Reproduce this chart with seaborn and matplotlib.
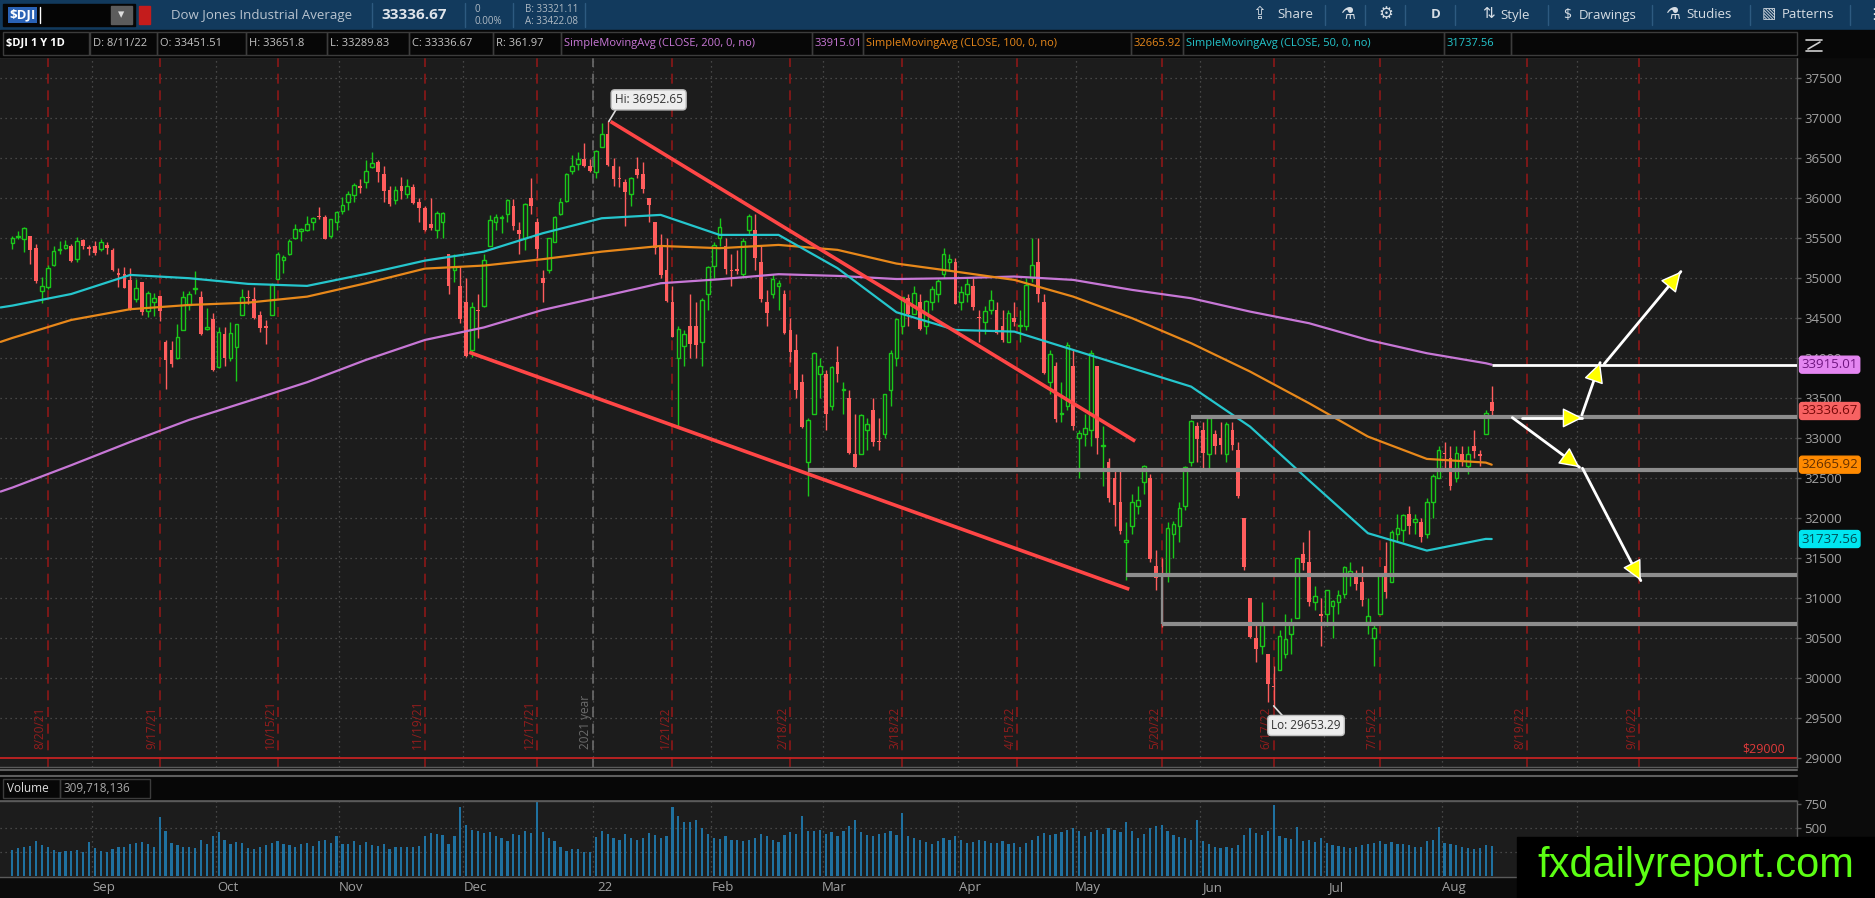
import numpy as np
import pandas as pd
import seaborn as sns
import matplotlib.pyplot as plt
from matplotlib.patches import Rectangle
from matplotlib.lines import Line2D
from matplotlib.transforms import blended_transform_factory

# $DJI daily candles 8/12/21 - 8/11/22
opens = [
    35440, 35510, 35480, 35520, 35370, 34830, 34880, 35160, 35350, 35370, 35400, 35240, 35470, 35390,
    35400, 35360, 35410, 35350, 35060, 35050, 34970, 34740, 34950, 34590, 34700, 34770, 34200, 34100, 34000, 34350, 34660, 34860, 34760, 34360, 34480,
    33890, 34300, 34000, 34140, 34530, 34750, 34740, 34530, 34400, 34530, 34990, 35220, 35300, 35500, 35590, 35600, 35700, 35760, 35760, 35520, 35700,
    35830, 35950, 36040, 36150, 36200, 36380, 36450, 36300, 36100, 35970, 36150, 36050, 36140, 35950, 35870, 35670, 35600, 35700, 35300, 35100, 34900,
    34700, 34100, 34600, 34650, 35400, 35700, 35750, 35800, 35900, 35600, 35500, 36000, 35700, 35000, 35100, 35450, 35800, 35960, 36340, 36420, 36490, 36400,
    36320, 36640, 36800, 36400, 36250, 36200, 36050, 36360, 36300, 36000, 35700, 35400, 35100, 34700, 34000, 34150, 34400, 34400, 34200, 34800,
    35150, 35500, 35400, 35100, 35100, 35050, 35600, 35600, 35200, 34700, 34800, 34900, 34800, 34350, 34100, 33700, 32700, 33300, 33800,
    33800, 33400, 33950, 33600, 33500, 32800, 32800, 33100, 33350, 32950, 33050, 33600, 34000, 34400, 34750, 34550, 34700, 34400, 34700, 34800, 35050, 35200, 35200,
    34700, 34800, 34900, 34500, 34450, 34600, 34600, 34400, 34200, 34500, 34400, 34400, 35000, 35200, 34700, 33700, 33900, 33300, 33400, 33900,
    33000, 33050, 33100, 33900, 32900, 32700, 32500, 32200, 31700, 31900, 32150, 32450, 32500, 31400, 31300, 31300, 31800, 31900, 32150, 32700, 33150,
    33100, 32800, 33050, 33000, 32800, 33100, 32850, 32000, 31000, 30500, 30400, 30300, 29900, 30100, 30300, 30550, 30750, 31550, 31450, 30950, 30800,
    30800, 30900, 30950, 31050, 31300, 31300, 31200, 30700, 30500, 30800, 31400, 31200, 31800, 31850, 32050, 31950, 31950, 31800, 32200, 32500,
    32800, 32750, 32500, 32800, 32650, 32900, 32800, 33050, 33451.51,
]
highs = [
    35520, 35585, 35630, 35520, 35420, 35010, 35160, 35400, 35460, 35470, 35420, 35510, 35490, 35410,
    35460, 35490, 35450, 35370, 35120, 35140, 35120, 34990, 34950, 34840, 34810, 34770, 34220, 34210, 34420, 34830, 34830, 35080, 34840, 34620, 34560,
    34390, 34380, 34450, 34420, 34860, 34850, 34880, 34580, 34470, 34930, 35320, 35290, 35490, 35670, 35620, 35770, 35760, 35890, 35780, 35740, 35830,
    36010, 36080, 36190, 36240, 36470, 36570, 36470, 36400, 36150, 36150, 36260, 36230, 36170, 36000, 35900, 36000, 35830, 35820, 35300, 35300, 35150,
    35000, 34700, 34800, 35300, 35790, 35800, 35780, 35980, 35990, 35700, 35940, 36250, 35750, 35100, 35500, 35770, 36000, 36310, 36530, 36570, 36680, 36480,
    36600, 36930, 36952.65, 36500, 36400, 36230, 36260, 36510, 36450, 36000, 35700, 35550, 35500, 34900, 34400, 34350, 34800, 34700, 34750, 35150,
    35450, 35750, 35500, 35300, 35350, 35500, 35800, 35800, 35400, 34850, 35050, 34970, 34850, 34500, 34300, 33800, 33250, 34070, 34000,
    33850, 33900, 34150, 33700, 33600, 33300, 33300, 33250, 33500, 33250, 33550, 34100, 34500, 34760, 34800, 34900, 34800, 34720, 34900, 34980, 35370, 35300, 35250,
    34900, 35000, 35000, 34600, 34650, 34850, 34700, 34600, 34600, 34700, 34600, 35000, 35500, 35500, 34800, 34100, 33950, 33700, 34200, 34100,
    33100, 33300, 34100, 33900, 33150, 32750, 32600, 32600, 31950, 32300, 32400, 32660, 32550, 31600, 31500, 31950, 31960, 32200, 32650, 33230, 33200,
    33200, 33260, 33100, 33200, 33200, 33200, 32950, 32000, 31000, 30700, 30950, 30300, 30150, 30600, 30800, 30750, 31500, 31700, 31850, 31150, 31000,
    31100, 30980, 31100, 31400, 31450, 31350, 31400, 31000, 30700, 31300, 31700, 31850, 32050, 32050, 32150, 32050, 32000, 32250, 32550, 32900,
    32950, 32900, 32900, 32900, 32900, 33100, 32850, 33350, 33651.8,
]
lows = [
    35360, 35480, 35320, 35170, 34940, 34690, 34860, 35150, 35300, 35360, 35200, 35200, 35360, 35290,
    35290, 35340, 35300, 35090, 34880, 34870, 34600, 34700, 34540, 34510, 34520, 34460, 33610, 33880, 33990, 34350, 34600, 34800, 34290, 34350, 33840,
    33870, 33900, 33960, 33710, 34530, 34670, 34480, 34320, 34170, 34530, 34990, 35060, 35290, 35480, 35460, 35580, 35600, 35740, 35480, 35500, 35600,
    35800, 35850, 35950, 36060, 36120, 36370, 36200, 35950, 35900, 35920, 35990, 36000, 35920, 35700, 35580, 35600, 35500, 35500, 34800, 34950, 34440,
    34010, 34010, 34250, 34630, 35400, 35600, 35560, 35700, 35600, 35300, 35350, 35800, 35250, 34700, 35060, 35450, 35780, 35950, 36300, 36350, 36390, 36320,
    36250, 36640, 36400, 36150, 36140, 35650, 35900, 36250, 36060, 35700, 35300, 35000, 34700, 34260, 33150, 33900, 34000, 34000, 33900, 34600,
    35000, 35400, 35050, 34900, 35050, 35000, 35550, 35100, 34700, 34400, 34750, 34600, 34300, 33950, 33500, 33130, 32270, 33300, 33500,
    33100, 33350, 33700, 33300, 32800, 32600, 32800, 32850, 32900, 32850, 33000, 33400, 33900, 34300, 34400, 34550, 34350, 34300, 34600, 34700, 35000, 35100, 34670,
    34600, 34700, 34600, 34200, 34300, 34550, 34300, 34200, 34200, 34400, 34200, 34350, 34950, 34700, 33800, 33550, 33200, 33200, 33350, 33100,
    32500, 32900, 32900, 32800, 32400, 32200, 31900, 31800, 31230, 31800, 32050, 32300, 31450, 31100, 30636, 31200, 31500, 31700, 32100, 32650, 32700,
    32600, 32600, 32800, 32800, 32700, 32850, 32250, 31350, 30500, 30200, 30300, 29700, 29653.29, 30100, 30250, 30300, 30750, 31350, 30900, 30850, 30400,
    30650, 30500, 30800, 31000, 31150, 31100, 30900, 30550, 30150, 30800, 31000, 31200, 31700, 31700, 31800, 31800, 31700, 31750, 32000, 32500,
    32600, 32350, 32450, 32650, 32550, 32750, 32650, 33050, 33289.83,
]
closes = [
    35499, 35515, 35625, 35343, 34960, 34894, 35120, 35335, 35366, 35405, 35213, 35456, 35400, 35361,
    35312, 35443, 35369, 35100, 35031, 34879, 34608, 34870, 34577, 34814, 34751, 34584, 33970, 33919, 34258, 34765, 34798, 34869, 34299, 34390, 33844,
    34326, 34002, 34314, 34417, 34755, 34746, 34496, 34378, 34377, 34912, 35295, 35258, 35457, 35609, 35603, 35677, 35741, 35757, 35490, 35731, 35820,
    35913, 36053, 36158, 36124, 36328, 36432, 36320, 36080, 35921, 36100, 36087, 36142, 35931, 35871, 35601, 35619, 35813, 35804, 34899, 35136, 34484,
    34022, 34640, 34580, 35227, 35719, 35754, 35754, 35971, 35650, 35544, 35927, 35898, 35365, 34932, 35493, 35754, 35950, 36302, 36398, 36488, 36398, 36338,
    36585, 36800, 36408, 36236, 36232, 36068, 36252, 36290, 36114, 35912, 35369, 35029, 34715, 34265, 34365, 34298, 34168, 34160, 34725, 35132,
    35405, 35630, 35111, 35089, 35091, 35463, 35768, 35242, 34738, 34566, 34989, 34935, 34312, 34079, 33597, 33132, 33224, 34059, 33893,
    33295, 33891, 33795, 33615, 32818, 32633, 33286, 33174, 32944, 32945, 33544, 34063, 34481, 34755, 34553, 34808, 34359, 34708, 34861, 34955, 35294, 35229, 34678,
    34818, 34922, 34641, 34497, 34584, 34721, 34309, 34221, 34565, 34451, 34412, 34912, 35161, 34793, 33811, 34049, 33240, 33302, 34160, 33147,
    33062, 33129, 34061, 32998, 32900, 32246, 32161, 31834, 31730, 32197, 32223, 32655, 31490, 31253, 31262, 31880, 31929, 32120, 32637, 33213, 32990,
    32813, 33248, 32900, 32916, 33180, 32910, 32272, 31393, 30517, 30365, 30668, 29927, 29889, 30530, 30483, 30677, 31501, 31438, 30947, 31029, 30775,
    31097, 30968, 31037, 31385, 31338, 31173, 30982, 30773, 30630, 31289, 31072, 31827, 31875, 32036, 31899, 31990, 31762, 32198, 32529, 32845,
    32798, 32397, 32813, 32727, 32803, 32833, 32775, 33310, 33336.67,
]
# volume, millions of shares
volumes = [
    270, 290, 300, 310, 360, 320, 300, 275, 250, 260, 265, 275, 250, 350,
    290, 260, 250, 280, 300, 300, 330, 340, 350, 330, 300, 615, 470, 340, 320, 300, 300, 290, 380, 330, 420,
    460, 380, 330, 350, 340, 290, 280, 300, 320, 340, 360, 330, 320, 300, 330, 340, 310, 360, 380, 340, 420,
    330, 330, 360, 320, 350, 320, 310, 330, 280, 300, 300, 300, 300, 310, 420, 450, 440, 430, 330, 420, 720,
    530, 480, 470, 450, 460, 420, 400, 360, 440, 430, 470, 450, 800, 460, 400, 360, 300, 260, 280, 280, 250, 250,
    410, 470, 440, 400, 380, 440, 400, 380, 400, 450, 430, 400, 420, 720, 620, 560, 560, 580, 500, 440,
    400, 390, 420, 380, 370, 360, 380, 400, 440, 420, 380, 350, 430, 460, 440, 630, 470, 470, 480,
    440, 460, 420, 470, 520, 580, 460, 430, 420, 440, 450, 470, 430, 660, 420, 400, 370, 350, 330, 360, 400, 380, 420,
    380, 340, 350, 370, 360, 340, 340, 360, 330, 340, 300, 340, 380, 420, 450, 430, 440, 460, 480, 500,
    470, 420, 460, 480, 440, 500, 480, 460, 565, 470, 400, 440, 500, 520, 530, 470, 430, 410, 400, 380, 585,
    360, 330, 300, 290, 300, 290, 320, 430, 500, 450, 430, 470, 735, 420, 400, 390, 510, 360, 380, 350, 400,
    340, 320, 310, 300, 290, 300, 320, 330, 340, 360, 330, 350, 330, 330, 320, 300, 300, 360, 380, 515,
    340, 330, 320, 300, 290, 280, 290, 320, 310,
]

# moving averages every 10 bars (last = current value)
ma_idx = [-2, 0, 10, 20, 30, 40, 50, 60, 70, 80, 90, 100, 110, 120, 130, 140, 150, 160, 170,
          180, 190, 200, 210, 220, 230, 240, 250, 251]
sma200 = [32330, 32380, 32660, 32950, 33226, 33459, 33696, 33975, 34224, 34380, 34599, 34765, 34932, 34982,
          35045, 35024, 34985, 34995, 35016, 34974, 34849, 34745, 34578, 34433, 34224, 34058, 33933, 33915.01]
sma100 = [34200, 34249, 34474, 34608, 34661, 34690, 34765, 34932, 35115, 35153, 35233, 35327, 35398, 35370,
          35411, 35349, 35178, 35078, 34974, 34765, 34495, 34183, 33829, 33434, 33017, 32738, 32692, 32665.92]
sma50 = [34630, 34653, 34798, 35036, 34995, 34924, 34899, 35049, 35215, 35327, 35557, 35744, 35786, 35536,
         35536, 35120, 34570, 34349, 34328, 34099, 33870, 33641, 33141, 32470, 31810, 31593, 31739, 31737.56]

holidays = ['2021-09-06', '2021-11-25', '2021-12-24', '2022-01-17', '2022-02-21', '2022-04-15',
            '2022-05-30', '2022-06-20', '2022-07-04', '2022-09-05', '2022-11-24']
expiry_dates = ['2021-08-20', '2021-09-17', '2021-10-15', '2021-11-19', '2021-12-17', '2022-01-21',
                '2022-02-18', '2022-03-18', '2022-04-15', '2022-05-20', '2022-06-17', '2022-07-15',
                '2022-08-19', '2022-09-16']
expiry_labels = ['8/20/21', '9/17/21', '10/15/21', '11/19/21', '12/17/21', '1/21/22', '2/18/22',
                 '3/18/22', '4/15/22', '5/20/22', '6/17/22', '7/15/22', '8/19/22', '9/16/22']
month_starts = ['2021-09-01', '2021-10-01', '2021-11-01', '2021-12-01', '2022-01-03', '2022-02-01',
                '2022-03-01', '2022-04-01', '2022-05-02', '2022-06-01', '2022-07-01', '2022-08-01',
                '2022-09-01']
month_labels = ['Sep', 'Oct', 'Nov', 'Dec', '22', 'Feb', 'Mar', 'Apr', 'May', 'Jun', 'Jul', 'Aug', '']

# drawings on the chart
support_levels = [33257, 32600, 31285, 30672]
support_from = ['2022-05-27', '2022-02-24', '2022-05-12', '2022-05-20']
channel_upper = [('2022-01-05', 36952), ('2022-05-13', 32960)]
channel_lower = [('2021-12-01', 34070), ('2022-05-12', 31110)]
arrows = [((256.2, 33250), (266.4, 33250)), ((254.5, 33254), (265.9, 32634)),
          ((266.3, 33288), (269.4, 33941)), ((270.1, 33925), (283.1, 35078)),
          ((266.4, 32622), (276.3, 31218))]
tags = [(33915.01, '#e486f1', '#6f1580'), (33336.67, '#f76262', '#760808'),
        (32665.92, '#ff8a00', '#653000'), (31737.56, '#00e6f0', '#004d55')]

W, H = 1875, 898
PANE = '#1c1c1c'
GREEN, RED = '#1ac81a', '#ff5d5d'

sns.set_theme(style='dark', rc={'axes.facecolor': PANE, 'figure.facecolor': '#0b0b0b'})
plt.rcParams['font.family'] = ['Open Sans', 'DejaVu Sans']

bday = pd.offsets.CustomBusinessDay(holidays=holidays)
dates = pd.date_range('2021-08-12', '2022-11-30', freq=bday)


def xpos(s):
    d = pd.Timestamp(s)
    i = dates.searchsorted(d)
    return float(i) if dates[i] == d else i - 0.5


fig = plt.figure(figsize=(W / 100, H / 100), dpi=100)
ax = fig.add_axes([0, 1 - 767 / H, 1797 / W, 710 / H])
axv = fig.add_axes([0, 1 - 877 / H, 1797 / W, 76 / H])
XMIN, XMAX = -2.1, 302.8

for a in (ax, axv):
    a.set_facecolor(PANE)
    a.set_xlim(XMIN, XMAX)
    a.grid(False)
    for s in a.spines.values():
        s.set_color('#5a5a5a')
        s.set_linewidth(1)
    a.spines['left'].set_visible(False)
    a.yaxis.tick_right()
    a.tick_params(axis='y', colors='#5a5a5a', labelcolor='#a3a3a3', length=3, width=1,
                  pad=2, labelsize=9.5)

ax.set_ylim(28890, 37758)
ax.set_yticks(range(29000, 37501, 500))
ax.set_xticks([])

# grid
for p in range(29500, 37501, 500):
    ax.axhline(p, color='#555555', ls=(0, (1, 3)), lw=0.9, zorder=0.5)
for m in month_starts:
    ax.axvline(xpos(m) - 0.5, color='#555555', ls=(0, (1, 3)), lw=0.9, zorder=0.5)
    axv.axvline(xpos(m) - 0.5, color='#555555', ls=(0, (1, 3)), lw=0.9, zorder=0.5)
for d, lab in zip(expiry_dates, expiry_labels):
    xe = xpos(d)
    ax.axvline(xe, color='#8c1818', ls=(0, (6, 4)), lw=1.2, zorder=0.6)
    ax.text(xe - 0.15, 29110, lab, rotation=90, ha='right', va='bottom', color='#931c1c',
            fontsize=8.5, zorder=1)
ax.axvline(98.5, color='#6c6c6c', ls=(0, (6, 4)), lw=1.2, zorder=0.6)
ax.text(98.35, 29110, '2021 year', rotation=90, ha='right', va='bottom', color='#6c6c6c',
        fontsize=8.5, zorder=1)
ax.axhline(29000, color='#c42222', lw=1.3, zorder=1)
ax.text(XMAX - 2, 29030, '$29000', color='#e03a3a', ha='right', va='bottom', fontsize=9)

# candles
o, h, l, c = map(np.array, (opens, highs, lows, closes))
x = np.arange(len(c))
up = c >= o
body = np.maximum(np.abs(c - o), 14)
ax.vlines(x[up], l[up], h[up], color=GREEN, lw=1, zorder=3)
ax.vlines(x[~up], l[~up], h[~up], color=RED, lw=1, zorder=3)
ax.bar(x[up], body[up], bottom=o[up], width=0.62, facecolor=PANE, edgecolor=GREEN, lw=1, zorder=4)
ax.bar(x[~up], body[~up], bottom=c[~up], width=0.62, color=RED, lw=0, zorder=4)

# moving averages
ma = pd.DataFrame({
    'idx': ma_idx * 3,
    'value': sma200 + sma100 + sma50,
    'study': ['SMA200'] * len(ma_idx) + ['SMA100'] * len(ma_idx) + ['SMA50'] * len(ma_idx),
})
sns.lineplot(data=ma, x='idx', y='value', hue='study', ax=ax, legend=False, lw=1.6, zorder=5,
             palette={'SMA200': '#c777d6', 'SMA100': '#e8881a', 'SMA50': '#25c6cd'})
ax.set_xlabel('')
ax.set_ylabel('')

# drawings
for (d0, p0), (d1, p1) in (channel_upper, channel_lower):
    ax.plot([xpos(d0) + 0.5, xpos(d1) + 0.5], [p0, p1], color='#ff4646', lw=2.6, zorder=6,
            solid_capstyle='butt')
for lvl, d0 in zip(support_levels, support_from):
    ax.hlines(lvl, xpos(d0), XMAX, color='#8d8d8d', lw=3, zorder=6)
ax.vlines(xpos(support_from[3]), support_levels[3], support_levels[2], color='#8d8d8d', lw=1.6,
          zorder=6)
ax.hlines(sma200[-1], len(c) - 1, XMAX, color='white', lw=2, zorder=6)
for (x0, y0), (x1, y1) in arrows:
    ax.plot([x0, x1], [y0, y1], color='white', lw=2, zorder=7)
    ax.annotate('', xy=(x1, y1), xytext=(x0 + (x1 - x0) * 0.7, y0 + (y1 - y0) * 0.7),
                arrowprops=dict(arrowstyle='-|>,head_length=0.9,head_width=0.45',
                                fc='#ffff00', ec='white', lw=1, shrinkA=0, shrinkB=0,
                                mutation_scale=14), zorder=8)

# high / low callouts
ihi = int(np.argmax(h))
ilo = int(np.argmin(l))
ax.plot([ihi + 0.2, ihi + 1.6], [h[ihi], h[ihi] + 170], color='#dddddd', lw=1.2, zorder=8)
ax.text(ihi + 1.2, h[ihi] + 270, f'Hi: {h[ihi]:.2f}', ha='left', va='center', fontsize=8.5,
        color='#333333', zorder=9,
        bbox=dict(boxstyle='round,pad=0.3', fc='#ededed', ec='#bdbdbd', lw=1))
ax.plot([ilo, ilo + 1.6], [l[ilo], l[ilo] - 130], color='#dddddd', lw=1.2, zorder=8)
ax.text(ilo - 0.4, l[ilo] - 245, f'Lo: {l[ilo]:.2f}', ha='left', va='center', fontsize=8.5,
        color='#333333', zorder=9,
        bbox=dict(boxstyle='round,pad=0.3', fc='#ededed', ec='#bdbdbd', lw=1))

# value tags on the price axis
trans = blended_transform_factory(ax.transAxes, ax.transData)
for val, bg, fg in tags:
    ax.text(1.0025, val, f'{val:.2f}', transform=trans, ha='left', va='center', fontsize=9.5,
            color=fg, clip_on=False, zorder=10,
            bbox=dict(boxstyle='round,pad=0.15,rounding_size=0.2', fc=bg, ec=bg))

# volume pane
axv.bar(x, volumes, width=0.38, color='#1f71a0', lw=0, zorder=2)
axv.set_ylim(-10, 781)
axv.set_yticks([500, 750])
for v in (250, 500):
    axv.axhline(v, color='#555555', ls=(0, (1, 3)), lw=0.9, zorder=0.5)
axv.set_xticks([xpos(m) + 1.5 for m in month_starts])
axv.set_xticklabels(month_labels)
axv.tick_params(axis='x', length=0, pad=3, labelcolor='#a0a0a0', labelsize=9.5)


# ---- header bars and chrome (pixel helpers) ----
def px_rect(x0, y0, x1, y1, **kw):
    fig.add_artist(Rectangle((x0 / W, 1 - y1 / H), (x1 - x0) / W, (y1 - y0) / H,
                             transform=fig.transFigure, **kw))


def px_text(xp, yp, s, **kw):
    kw.setdefault('va', 'center')
    return fig.text(xp / W, 1 - yp / H, s, **kw)


def px_line(x0, y0, x1, y1, **kw):
    fig.add_artist(Line2D([x0 / W, x1 / W], [1 - y0 / H, 1 - y1 / H],
                          transform=fig.transFigure, **kw))


# toolbar
px_rect(0, 0, W, 30, color='#123a5d', zorder=1)
px_rect(3, 4, 135, 26, color='#050505', zorder=2)
px_text(9, 15, '$DJI', color='white', fontsize=9.5, fontweight='bold', zorder=3,
        bbox=dict(boxstyle='square,pad=0.1', fc='#2a62b5', ec='none'))
px_line(40, 7, 40, 23, color='white', lw=1, zorder=3)
px_rect(111, 6, 132, 24, color='#5c5c5c', zorder=3)
px_text(121.5, 15, '▾', color='#dddddd', fontsize=9, ha='center', zorder=4)
px_rect(139, 6, 150, 24, color='#c41c1c', zorder=3)
px_text(171, 15, 'Dow Jones Industrial Average', color='#b9c4cf', fontsize=9.5, zorder=3)
px_text(381, 15, '33336.67', color='#dfe4ea', fontsize=11, fontweight='bold', zorder=3)
px_text(474, 9, '0', color='#b0bac4', fontsize=7, zorder=3)
px_text(474, 21, '0.00%', color='#b0bac4', fontsize=7, zorder=3)
px_text(525, 9, 'B: 33321.11', color='#b0bac4', fontsize=7, zorder=3)
px_text(525, 21, 'A: 33422.08', color='#b0bac4', fontsize=7, zorder=3)
for sx in (372, 465, 513, 585):
    px_line(sx, 3, sx, 27, color='#2d5a80', lw=1, zorder=2)
toolbar_items = [(1252, '⇪', 12), (1277, 'Share', 9.5), (1341, '⚗', 12), (1378, '⚙', 12),
                 (1431, 'D', 9.5), (1482, '⇅', 11), (1500, 'Style', 9.5), (1563, '$', 10),
                 (1579, 'Drawings', 9.5), (1666, '⚗', 12), (1686, 'Studies', 9.5),
                 (1762, '▧', 11), (1782, 'Patterns', 9.5), (1866, '⋮', 11)]
for tx, s, fs in toolbar_items:
    px_text(tx, 15, s, color='#d6dde4', fontsize=fs, zorder=3,
            fontweight='bold' if s == 'D' else 'normal')
for sx in (1325, 1365, 1405, 1455, 1548, 1652, 1750, 1850):
    px_line(sx, 5, sx, 25, color='#2d5a80', lw=1, zorder=2)

# info row
px_rect(0, 30, W, 57, color='#070707', zorder=1)
info_boxes = [(3, 89, '$DJI 1 Y 1D', '#ffffff'), (90, 157, 'D: 8/11/22', '#c4c4c4'),
              (157, 246, 'O: 33451.51', '#c4c4c4'), (246, 327, 'H: 33651.8', '#c4c4c4'),
              (327, 409, 'L: 33289.83', '#c4c4c4'), (409, 493, 'C: 33336.67', '#c4c4c4'),
              (493, 561, 'R: 361.97', '#c4c4c4'),
              (561, 812, 'SimpleMovingAvg (CLOSE, 200, 0, no)', '#c877d6'),
              (812, 863, '33915.01', '#c877d6'),
              (863, 1131, 'SimpleMovingAvg (CLOSE, 100, 0, no)', '#e8881a'),
              (1131, 1183, '32665.92', '#e8881a'),
              (1183, 1444, 'SimpleMovingAvg (CLOSE, 50, 0, no)', '#25c6cd'),
              (1444, 1511, '31737.56', '#25c6cd'), (1511, 1797, '', '#c4c4c4')]
for x0, x1, s, col in info_boxes:
    px_rect(x0, 32, x1, 55, fill=False, ec='#3c3c3c', lw=1, zorder=2)
    px_text(x0 + 3, 43.5, s, color=col, fontsize=8, zorder=3,
            fontweight='bold' if s.startswith('$DJI') else 'normal')
px_line(1806, 40, 1822, 40, color='#cfcfcf', lw=1.2, zorder=3)
px_line(1806, 51, 1822, 51, color='#cfcfcf', lw=1.2, zorder=3)
px_line(1808, 49, 1820, 42, color='#cfcfcf', lw=1.2, zorder=3)

# separators and volume header
px_line(0, 770, 1797, 770, color='#5e5e5e', lw=1.5, zorder=2)
px_line(0, 776, 1797, 776, color='#5e5e5e', lw=1.5, zorder=2)
px_line(0, 800.5, 1797, 800.5, color='#5e5e5e', lw=1.2, zorder=2)
px_rect(0, 777, 1797, 800, color='#070707', zorder=1)
px_rect(3, 779, 60, 798, fill=False, ec='#3c3c3c', lw=1, zorder=2)
px_rect(60, 779, 150, 798, fill=False, ec='#3c3c3c', lw=1, zorder=2)
px_text(7, 788.5, 'Volume', color='#e0e0e0', fontsize=8.5, zorder=3)
px_text(64, 788.5, '309,718,136', color='#a8a8a8', fontsize=8.5, zorder=3)

# watermark
px_rect(1517, 837, W, H, color='#000000', zorder=20)
px_text(1696, 866, 'fxdailyreport.com', color='#5cff14', fontsize=30, ha='center', zorder=21,
        family=['Liberation Sans Narrow', 'Liberation Sans', 'DejaVu Sans'])

fig.savefig('out.png', dpi=100, facecolor=fig.get_facecolor())
